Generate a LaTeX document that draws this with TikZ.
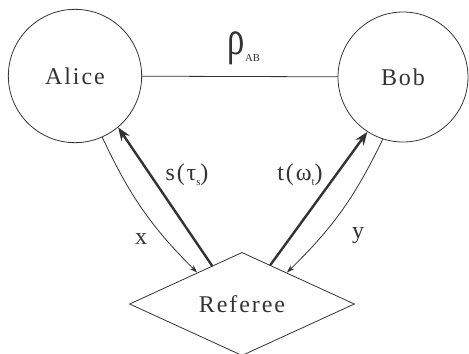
\documentclass[tikz,border=0pt]{standalone}
\usepackage{fontspec}
\setmainfont{LiberationSerif}[Extension=.ttf, UprightFont=*-Regular, BoldFont=*-Bold]
\newfontfamily\spaced{LiberationSerif}[Extension=.ttf, UprightFont=*-Regular, LetterSpace=8]
\usetikzlibrary{arrows.meta,shapes.geometric}
\definecolor{ink}{HTML}{333333}
\newcommand\lowsub[1]{\raisebox{-0.45ex}{\fontsize{8}{8}\selectfont #1}}

\begin{document}
\begin{tikzpicture}[x=0.75pt, y=-0.75pt, >=Stealth, line cap=round,
  every node/.style={text=ink, font=\spaced\fontsize{18}{20}\selectfont},
  player/.style={circle, draw=ink, line width=0.6pt, inner sep=0pt},
  judge/.style={diamond, draw=ink, line width=0.6pt, inner sep=0pt,
    minimum width=168.75pt, minimum height=73.5pt},
  ask/.style={->, draw=ink, line width=0.6pt, >={Stealth[length=6pt,width=4pt]}},
  reply/.style={->, draw=ink, line width=1.8pt, >={Stealth[length=10pt,width=7.5pt]}}]
\useasboundingbox (0,0) rectangle (469,354);
% 两个玩家与共享态
\node[player, minimum size=100pt] (alice) at (75,76) {Alice};
\node[player, minimum size=97.5pt] (bob) at (403,77) {Bob};
\draw[ink, line width=0.6pt] (alice) -- (bob);
\node (rho) at (244,48) {\rmfamily\fontsize{26}{28}\selectfont\scalebox{1}[1.4]{ρ}\lowsub{AB}};
% 裁判
\node[judge] (ref) at (242,304) {Referee};
% 问题 x, y
\draw[ask] (alice.-66) to[bend right=10] (ref.145);
\draw[ask] (bob.252) to[bend left=10] (ref.35);
\node (qx) at (141,239) {x};
\node (qy) at (358,236) {y};
% 回答
\draw[reply] (ref.128) -- (alice.-50);
\draw[reply] (ref.54) -- (bob.237);
\node (sa) at (187,175) {s(τ\lowsub{s})};
\node (tb) at (300,175) {t(ω\lowsub{t})};
\end{tikzpicture}
\end{document}
